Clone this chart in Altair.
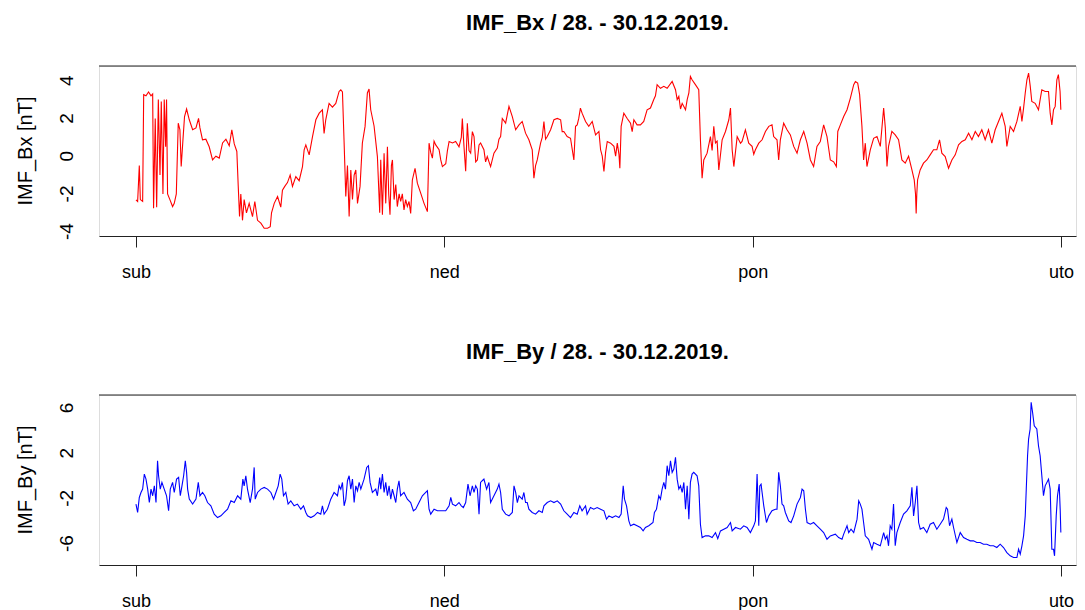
import altair as alt
import pandas as pd

# ---------------- data ----------------
day_labels = ["sub", "ned", "pon", "uto"]
day_ticks = [0, 24, 48, 72]          # hours since 28.12.2019 00:00
bx_ticks = [-4, -2, 0, 2, 4]
by_ticks = [-6, -4, -2, 0, 2, 4, 6]
by_labeled = [-6, -2, 2, 6]

bx_hours = [
    0.0, 0.13, 0.26, 0.34, 0.52, 0.6, 0.78, 0.98, 1.17, 1.3, 1.37, 1.5, 1.61, 1.74, 1.87, 1.97,
    2.1, 2.2, 2.31, 2.38, 2.46, 2.64, 2.85, 2.98, 3.14, 3.29, 3.42, 3.52, 3.65, 3.78, 3.94, 4.15,
    4.41, 4.67, 4.87, 4.98, 5.18, 5.44, 5.7, 5.96, 6.22, 6.48, 6.74, 7.0, 7.26, 7.46, 7.65, 7.85,
    7.96, 8.06, 8.16, 8.29, 8.42, 8.6, 8.81, 9.07, 9.25, 9.46, 9.72, 9.98, 10.24, 10.45, 10.55,
    10.76, 11.02, 11.27, 11.4, 11.58, 11.79, 12.0, 12.18, 12.44, 12.7, 12.96, 13.09, 13.22, 13.48,
    13.74, 14.0, 14.26, 14.51, 14.64, 14.77, 15.03, 15.29, 15.55, 15.81, 15.94, 16.07, 16.2, 16.33,
    16.46, 16.59, 16.72, 16.85, 16.98, 17.11, 17.24, 17.44, 17.62, 17.83, 18.01, 18.14, 18.27,
    18.53, 18.79, 18.97,
    19.05, 19.18, 19.31, 19.44, 19.57, 19.67, 19.77, 19.88, 19.96, 20.09, 20.22, 20.34, 20.48,
    20.6, 20.73, 20.86, 20.99, 21.12, 21.25, 21.38, 21.51, 21.72, 21.9, 22.16, 22.42, 22.68, 22.81,
    22.94, 23.07, 23.2, 23.33, 23.59, 23.72, 23.85, 24.11, 24.24, 24.37, 24.63, 24.88, 25.14,
    25.32, 25.4, 25.53, 25.66, 25.79, 25.92, 26.05, 26.18, 26.31, 26.44, 26.57, 26.7, 26.82,
    27.08, 27.21, 27.34, 27.6, 27.86, 28.12, 28.25, 28.38, 28.51, 28.77, 28.9, 29.03, 29.29,
    29.55, 29.81, 30.06, 30.32, 30.58, 30.84, 30.97, 31.1, 31.23, 31.49, 31.62, 31.75, 31.88,
    32.01, 32.27, 32.53, 32.79, 33.05, 33.17, 33.3, 33.56, 33.82, 34.08, 34.21, 34.34, 34.46,
    34.59, 34.72, 34.99, 35.24, 35.51, 35.77, 36.03, 36.16, 36.29, 36.42, 36.55, 36.68, 36.94,
    37.2, 37.33, 37.46, 37.59, 37.66, 37.76, 37.97, 38.23, 38.49, 38.62, 38.75, 39.0, 39.26,
    39.52, 39.78, 40.04, 40.3, 40.43, 40.56, 40.82, 41.08, 41.34, 41.73, 41.99, 42.12, 42.25,
    42.38, 42.51, 42.77, 42.9, 43.03, 43.15, 43.28, 43.54, 43.8, 43.93, 44.06, 44.19, 44.45,
    44.71, 44.84, 44.97, 45.1, 45.23, 45.36, 45.62, 45.88, 46.14, 46.27, 46.4, 46.53, 46.79, 47.05,
    47.17, 47.43, 47.69, 47.95, 48.08, 48.21, 48.47, 48.73, 48.99, 49.25, 49.5, 49.63, 49.89,
    50.02, 50.15, 50.41, 50.67, 50.93, 51.19, 51.45, 51.71, 51.97, 52.23, 52.49, 52.74, 53.0,
    53.26, 53.52, 53.78, 54.04, 54.3, 54.51, 54.62, 54.82, 55.08, 55.34, 55.6, 55.86, 55.99,
    56.17, 56.32, 56.5, 56.63, 56.76, 56.89, 57.15, 57.41, 57.67, 57.93, 58.19, 58.32, 58.45,
    58.57, 58.83, 59.09, 59.35, 59.61, 59.87, 60.13, 60.39, 60.57, 60.67, 60.72, 60.77, 60.83,
    61.03, 61.29, 61.55, 61.81, 62.07, 62.33, 62.54, 62.72, 62.98, 63.24, 63.5, 63.76, 64.02,
    64.28, 64.54, 64.8, 65.06, 65.32, 65.57, 65.83, 66.09, 66.35, 66.61, 66.87, 67.13, 67.39,
    67.65, 67.78, 68.04, 68.3, 68.56, 68.82, 68.95, 69.08, 69.21, 69.34, 69.47, 69.6, 69.72,
    69.98, 70.24, 70.37, 70.5, 70.76, 71.02, 71.15, 71.28, 71.41, 71.54, 71.67, 71.79, 71.92, 71.98,
]
bx_values = [
    -2.32, -2.4, -0.5, -2.3, -2.4, 3.26, 3.2, 3.4, 3.2, 3.3, -2.76, 2.0, -2.7, 3.0, -1.0, 2.9,
    -2.0, 3.0, 0.5, 3.0, -2.0, -2.3, -2.67, -2.5, -2.0, 1.75, 1.4, -0.55, 0.8, 2.1, 2.5, 1.93,
    1.4, 1.5, 2.0, 1.5, 0.87, 0.9, 0.5, -0.2, 0.0, -0.1, 0.7, 0.9, 0.55, 1.4, 0.65, 0.25,
    -1.6, -3.2, -2.0, -3.4, -2.3, -3.0, -2.5, -3.2, -2.4, -3.4, -3.55, -3.82, -3.82, -3.74, -3.0,
    -2.5, -2.14, -2.7, -1.8, -1.6, -1.4, -1.0, -1.6, -1.08, -1.3, -0.55, 0.34, 0.6, 0.07,
    1.04, 1.93, 2.28, 2.46, 1.2, 1.93, 2.8, 2.6, 2.8, 3.43, 3.52, 3.4, 0.7, -2.14,
    -0.5, -3.2, -0.73, -2.3, -1.0, -0.73, -2.5, -1.6, 0.7, 1.58, 3.35, 3.56, 2.46,
    1.6, -0.02, -3.0,
    -0.19, -3.1, 0.16, -2.5, 0.5, -2.0, -3.1, -0.5, -0.2, -2.3, -1.5, -2.67, -2.0,
    -2.4, -2.0, -2.85, -2.3, -2.67, -2.4, -3.03, -1.26, -0.64, -1.43, -1.96, -2.5, -2.94, 0.69,
    0.2, -0.1, 0.8, 0.6, 0.34, -0.2, -0.55, -0.4, 0.3, 0.78, 0.7, 0.78, 0.5,
    1.0, 2.0, 0.5, -0.8, 1.75, 0.3, 0.16, 1.3, 1.04, -0.3, -0.2, 0.6, 0.7,
    0.34, -0.3, -0.02, -0.55, 0.16, 0.43, 0.9, 1.04, 2.0, 1.75, 2.2, 2.64, 2.1,
    1.4, 1.66, 1.84, 1.22, 0.87, 0.34, -1.17, -0.5, -0.2, 0.69, 1.0, 1.84, 0.9,
    1.04, 1.4, 1.93, 2.0, 1.93, 1.3, 1.31, 1.04, 0.95, -0.2, 1.58, 1.66, 2.0,
    2.55, 2.28, 1.84, 1.58, 1.84, 1.13, 1.31, 0.34, 0.0, -0.81, 0.2, 0.78, 0.69,
    0.52, 0.0, 0.69, 0.1, -0.64, 1.58, 2.28, 2.0, 1.75, 1.3, 1.93, 1.66, 1.66,
    1.84, 2.46, 2.55, 3.0, 3.2, 3.79, 3.6, 3.7, 3.6, 3.96, 3.52, 3.0, 3.17,
    2.5, 2.8, 2.46, 3.0, 3.35, 4.23, 4.05, 3.79, 3.52, 0.87, -1.17, -0.2, 0.16,
    1.04, 0.3, 1.58, 0.7, 0.8, -0.73, 0.87, 1.31, 1.93, 2.55, 0.34, -0.55, 1.04, 0.69,
    0.78, 1.4, 0.69, 0.52, 0.1, 0.34, 0.69, 0.87, 1.31, 1.58, 1.66, 1.04, 0.87,
    -0.2, 0.87, 1.75, 1.4, 1.13, 0.52, 0.16, 0.87, 1.31, 0.69, -0.2, -0.55, 0.52,
    0.78, 1.66, 1.04, -0.2, -0.3, -0.55, 1.31, 1.66, 2.1, 2.46, 3.08, 3.79, 3.96,
    3.87, 3.26, 1.58, -0.2, 0.69, -0.55, 0.34, 0.95, 1.04, 0.52, 2.55, 1.5, -0.55,
    0.52, 1.31, 1.13, 0.87, -0.2, -0.37, 0.0, -0.73, -1.26, -2.0, -3.03, -2.0, -1.26,
    -0.73, -0.37, -0.2, 0.07, 0.34, 0.34, 0.87, 0.16, -0.02, -0.64, -0.2, 0.07, 0.6,
    0.78, 0.87, 1.22, 0.87, 1.31, 1.04, 1.4, 0.87, 1.4, 0.69, 1.4, 1.84, 2.28,
    1.58, 0.52, 1.58, 1.31, 1.84, 2.64, 1.84, 2.55, 3.35, 4.05, 4.4, 3.7, 2.9,
    2.8, 2.46, 3.0, 3.52, 3.43, 3.43, 2.28, 1.66, 2.46, 2.64, 4.05, 4.32, 3.43, 2.46,
]

by_hours = [
    0.0, 0.13, 0.26, 0.39, 0.52, 0.65, 0.78, 0.91, 1.04, 1.17, 1.3, 1.43, 1.56, 1.68, 1.76, 1.89,
    2.02, 2.2, 2.38, 2.54, 2.67, 2.85, 2.98, 3.16, 3.32, 3.45, 3.58, 3.71, 3.84, 3.94, 4.02, 4.15,
    4.41, 4.67, 4.85, 4.98, 5.18, 5.36, 5.57, 5.83, 6.09, 6.35, 6.61, 6.87, 7.13, 7.39, 7.65, 7.91,
    8.16, 8.32, 8.42, 8.55, 8.68, 8.89, 9.07, 9.2, 9.28, 9.46, 9.72, 9.98, 10.24, 10.5, 10.71,
    10.89, 11.07, 11.22, 11.35, 11.48, 11.66, 11.84, 12.05, 12.31, 12.57, 12.83, 13.04, 13.22,
    13.35, 13.61, 13.87, 14.13, 14.38, 14.51, 14.64, 14.9, 15.16, 15.42, 15.68, 15.81, 15.94,
    16.07, 16.2, 16.33, 16.46, 16.59, 16.72, 16.85, 16.98, 17.11, 17.24, 17.37, 17.5, 17.75,
    17.96, 18.09, 18.22, 18.4, 18.66, 18.79, 18.97,
    19.05, 19.18, 19.31, 19.44, 19.57, 19.7, 19.83, 19.96, 20.09, 20.22, 20.34, 20.47, 20.6,
    20.86, 21.12, 21.38, 21.59, 21.77, 22.03, 22.29, 22.55, 22.68, 22.81, 22.94, 23.2, 23.46,
    23.72, 24.11, 24.37, 24.5, 24.63, 24.88, 25.14, 25.32, 25.48, 25.66, 25.84, 26.0, 26.18,
    26.31, 26.44, 26.57, 26.7, 26.82, 26.95, 27.08, 27.29, 27.47, 27.6, 27.86, 28.12, 28.25,
    28.38, 28.51, 28.77, 29.03, 29.29, 29.42, 29.55, 29.68, 29.81, 30.06, 30.19, 30.32, 30.45,
    30.58, 30.84, 31.1, 31.36, 31.62, 31.75, 32.01, 32.27, 32.53, 32.79, 33.05, 33.3, 33.56,
    33.82, 34.08, 34.34, 34.54, 34.72, 34.99, 35.11, 35.37, 35.63, 35.89, 36.16, 36.42, 36.62,
    36.81, 37.07, 37.33, 37.59, 37.76, 37.92, 38.02, 38.18, 38.36, 38.49, 38.75, 39.0, 39.26,
    39.47, 39.65, 39.91, 40.24, 40.35, 40.51, 40.69, 40.82, 40.95, 41.08, 41.21, 41.34, 41.47,
    41.6, 41.73, 41.86, 41.99, 42.12, 42.25, 42.38, 42.51, 42.64, 42.77, 42.9, 43.03, 43.15,
    43.28, 43.41, 43.67, 43.8, 43.93, 44.06, 44.32, 44.58, 44.84, 45.1, 45.28, 45.49, 45.75,
    46.01, 46.27, 46.4, 46.66, 47.04,
    47.3, 47.56, 47.82, 48.08, 48.21, 48.34, 48.47, 48.55, 48.65, 48.73, 48.86, 49.07, 49.25,
    49.5, 49.76, 49.89, 50.02, 50.15, 50.28, 50.41, 50.54, 50.8, 50.98, 51.19, 51.45, 51.71,
    51.84, 51.97, 52.1, 52.23, 52.49, 52.74, 53.0, 53.26, 53.52, 53.78, 54.04, 54.43, 54.69,
    54.95, 55.08, 55.34, 55.47, 55.65, 55.86, 56.12, 56.25, 56.37, 56.5, 56.63, 56.76, 57.02,
    57.28, 57.41, 57.67, 57.93, 58.19, 58.32, 58.45, 58.57, 58.7, 58.83, 58.96, 59.09, 59.22,
    59.48, 59.74, 60.0, 60.26, 60.39, 60.52, 60.65, 60.78, 60.91, 61.04, 61.29, 61.55, 61.81,
    62.07, 62.33, 62.59, 62.85, 63.06, 63.16, 63.32, 63.5, 63.63, 63.89, 64.15, 64.41, 64.67,
    64.93, 65.18, 65.44, 65.7, 65.96, 66.22, 66.48, 66.74, 67.0, 67.26, 67.52, 67.78, 68.04,
    68.3, 68.56, 68.69, 68.82, 68.95, 69.08, 69.21, 69.29, 69.39, 69.47, 69.59, 69.67, 69.78,
    69.91, 70.11, 70.24, 70.37, 70.5, 70.63, 70.76, 71.02, 71.15, 71.28, 71.41, 71.49, 71.62,
    71.72, 71.85, 71.93, 71.98,
]
by_values = [
    -2.51, -3.25, -1.92, -1.48, -1.18, 0.15, -0.3, -1.18, -2.37, -1.18, -1.77, -0.89, -2.37, 1.33,
    0.0, -1.18, -0.59, -1.18, -1.77, -3.1, -1.18, -0.59, -1.48, -0.3, -0.15, -1.77, -0.89, 0.0,
    1.33, 0.3, -1.18, -2.07, -2.51, -2.07, -0.59, -1.77, -1.48, -1.77, -2.37, -2.66, -3.4, -3.7,
    -3.55, -3.25, -2.96, -2.22, -2.37, -1.77, -2.07, -0.3, -0.89, 0.0, -1.18, -2.37, -1.18, 0.74,
    -2.07, -1.48, -1.18, -1.03, -1.18, -1.48, -2.07, -1.48, -0.89, 0.15, -0.3, -1.77, -1.48,
    -2.51, -2.22, -2.66, -2.51, -2.96, -2.66, -3.25, -3.55, -3.7, -3.55, -3.25, -3.4, -2.66,
    -3.4, -2.96, -2.07, -1.48, -1.77, -0.89, -1.18, -0.59, -2.66, -2.07, -0.44, 0.0, -1.18,
    -0.3, -2.37, -0.89, -1.33, -0.59, -1.18, -0.3, 0.74, 0.89, -0.59, -1.48, -1.18, -1.77, -0.15,
    -1.18, 0.15, -1.48, -0.59, -1.77, -0.89, -2.07, -1.18, -1.77, -2.37, -1.18, -0.44, -1.77,
    -1.48, -2.07, -2.37, -3.1, -2.96, -2.37, -1.77, -1.48, -1.33, -2.96, -3.4, -2.96, -3.1,
    -3.1, -3.1, -2.66, -1.92, -2.51, -2.66, -2.37, -2.66, -2.81, -2.37, -0.74, -1.77, -0.89,
    -1.48, -0.89, -1.18, -3.4, -0.59, -0.44, -0.3, -1.18, -0.59, -2.37, -1.77, -1.18, -0.74,
    -1.48, -2.96, -3.4, -3.55, -3.25, -0.89, -1.48, -2.37, -1.77, -2.07, -1.48, -2.37, -2.37,
    -2.96, -3.25, -3.4, -3.1, -3.25, -2.66, -2.37, -2.22, -2.37, -2.22, -2.51, -3.1, -3.4,
    -3.7, -3.25, -3.4, -2.66, -3.1, -2.66, -3.4, -2.81, -2.96, -2.81, -2.96, -3.1, -3.84,
    -3.55, -3.7, -3.55, -3.7, -3.4, -0.89, -2.07, -2.66, -3.99, -4.43, -4.29, -4.43, -4.58,
    -4.88, -4.58, -4.43, -4.14, -3.25, -2.96, -1.77, -2.07, -1.18, -0.59, -1.18, 0.89, 0.0,
    1.33, 0.3, 0.59, 1.63, -0.3, -1.18, -0.89, -1.48, -0.59, -2.96, -0.89, -3.84, -0.59,
    0.15, 0.3, 0.0, -0.89, -4.29, -5.47, -5.32, -5.32, -5.47, -5.03, -5.56, -4.88, -4.73,
    -4.58, -4.14, -4.88, -4.58, -4.73,
    -4.43, -4.58, -5.03, -4.43, -3.99, 0.15, -4.43, -0.89, -0.74, -1.48, -2.66, -4.14, -3.55,
    -3.1, -2.96, -2.96, 0.3, -0.89, -2.51, -2.66, -3.25, -3.99, -4.14, -3.55, -2.51, -1.92,
    -1.18, -1.33, -2.96, -4.14, -4.29, -4.14, -4.43, -4.73, -5.03, -5.62, -5.32, -5.17, -5.47,
    -5.62, -5.17, -4.43, -5.03, -4.73, -5.03, -3.84, -2.22, -2.51, -2.96, -4.14, -5.32, -5.62,
    -6.5, -5.91, -6.06, -6.2, -5.03, -5.62, -5.32, -6.2, -4.43, -4.73, -2.51, -6.2, -5.03,
    -4.14, -3.4, -3.1, -2.66, -1.03, -3.55, -2.37, -0.89, -4.14, -4.73, -4.58, -5.03, -4.29,
    -4.14, -4.73, -4.29, -3.84, -2.81, -2.96, -4.43, -3.84, -4.58, -5.91, -5.03, -5.47, -5.62,
    -5.76, -5.76, -5.91, -5.91, -6.06, -6.06, -6.2, -6.2, -6.35, -6.06, -6.35, -6.8, -7.09,
    -7.24, -7.24, -6.5, -6.94, -6.2, -5.32, -3.55, -1.18, 1.77, 3.25, 4.14, 6.5, 5.62,
    4.43, 4.14, 2.66, 1.77, 0.0, -1.77, -0.89, -0.3, -1.18, -6.5, -6.5, -7.09, -3.55,
    -1.77, -0.74, -2.96, -5.03,
]

# ---------------- layout constants ----------------
W = 977
H = 170
X_DOMAIN = [-2.877, 73.16]
FONT = "Liberation Sans"


def panel(hours, values, color, title, ytitle, yticks, ylabeled, ydomain):
    df = pd.DataFrame({"hour": hours, "value": values})
    lab_df = pd.DataFrame({"value": ylabeled, "txt": [str(v) for v in ylabeled]})
    day_list = "[" + ",".join("'" + d + "'" for d in day_labels) + "]"
    yscale = alt.Scale(domain=ydomain, nice=False, zero=False)
    x = alt.X(
        "hour:Q",
        scale=alt.Scale(domain=X_DOMAIN, nice=False, zero=False),
        axis=alt.Axis(
            values=day_ticks,
            labelExpr=day_list + "[round(datum.value / 24)]",
            title=None, grid=False, tickSize=11, tickColor="#222", domainColor="#222",
            labelPadding=30, labelBaseline="alphabetic", labelFontSize=18, labelFont=FONT,
            labelColor="black", labelFlush=False, labelOverlap=False,
        ),
    )
    y = alt.Y(
        "value:Q",
        scale=yscale,
        axis=alt.Axis(
            values=yticks, labels=False, title=None,
            grid=False, tickSize=11, tickColor="#222", domainColor="#222",
        ),
    )
    line = alt.Chart(df).mark_line(color=color, strokeWidth=1.1).encode(x=x, y=y)
    ylabels = alt.Chart(lab_df).mark_text(
        angle=270, align="center", baseline="alphabetic", fontSize=19, font=FONT,
        color="black",
    ).encode(
        x=alt.value(-26),
        y=alt.Y("value:Q", scale=yscale, axis=None),
        text="txt:N",
    )
    ytitle_mark = alt.Chart(pd.DataFrame({"name": [ytitle]})).mark_text(
        angle=270, align="center", baseline="alphabetic", fontSize=20, font=FONT,
        color="black",
    ).encode(x=alt.value(-67), y=alt.value(H / 2), text="name:N")
    frame = alt.Chart(pd.DataFrame({"edge": ["top"]})).mark_rule(
        color="#222", strokeWidth=1
    ).encode(x=alt.value(0), x2=alt.value(W), y=alt.value(0))
    return alt.layer(line, ylabels, ytitle_mark, frame).properties(
        width=W, height=H,
        title=alt.TitleParams(
            text=title, fontSize=22, font=FONT, fontWeight="bold", color="black",
            anchor="middle", baseline="alphabetic", offset=14, dx=10,
        ),
    )


top = panel(bx_hours, bx_values, "#FF0000", "IMF_Bx / 28. - 30.12.2019.",
            "IMF_Bx [nT]", bx_ticks, bx_ticks, [-4.23, 4.78])
bottom = panel(by_hours, by_values, "#0000FF", "IMF_By / 28. - 30.12.2019.",
               "IMF_By [nT]", by_ticks, by_labeled, [-7.9, 7.15])

chart = alt.vconcat(top, bottom, spacing=58).properties(
    padding={"left": 7, "top": 3, "right": 0, "bottom": 0},
).configure_view(strokeWidth=0).configure(background="white")

chart.save("out.html", embed_options={"renderer": "svg", "actions": False})
